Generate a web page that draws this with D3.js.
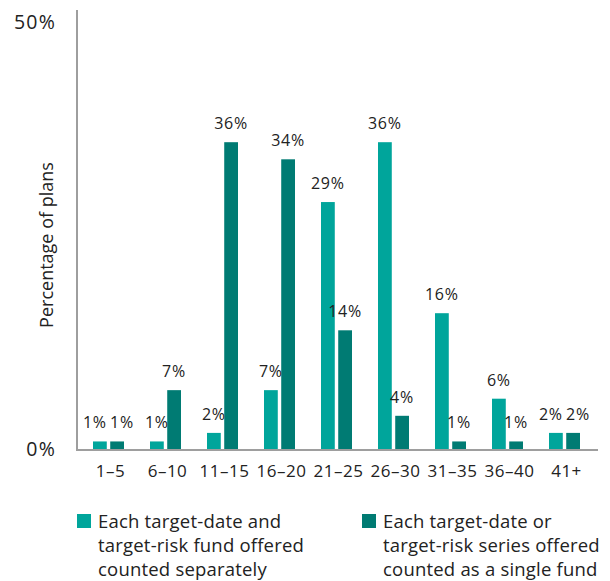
<!DOCTYPE html>
<html>
<head>
<meta charset="utf-8">
<script src="https://cdn.jsdelivr.net/npm/d3@7"></script>
<style>
  body { margin: 0; background: #fff; }
  svg text { font-family: "Open Sans", "Noto Sans", sans-serif; fill: #222; }
</style>
</head>
<body>
<div id="chart"></div>
<script>
// data
const categories = ["1–5", "6–10", "11–15", "16–20", "21–25", "26–30", "31–35", "36–40", "41+"];
const separately = [1, 1, 2, 7, 29, 36, 16, 6, 2];
const singleFund = [1, 7, 36, 34, 14, 4, 1, 1, 2];
const yTicks = [0, 50];
const legendLines = [
    ["Each target-date and", "target-risk fund offered", "counted separately"],
    ["Each target-date or", "target-risk series offered", "counted as a single fund"]
];
const colors = ["#00a59b", "#007b73"];

const width = 610, height = 581;

const svg = d3.select("#chart").append("svg")
    .attr("width", width)
    .attr("height", height);

// scales
let x = d3.scaleBand()
    .domain(categories)
    .range([80, 593]);

let xSub = d3.scaleBand()
    .domain([0, 1])
    .range([x.bandwidth() / 2 - 15.5, x.bandwidth() / 2 + 15.5])
    .paddingInner(0.2);

let y = d3.scaleLinear()
    .domain([0, 50])
    .range([450, 22.5]);

// table of rows built from arrays
let rows = categories.map((c, i) => ({cat: c, vals: [separately[i], singleFund[i]]}));

// bars
let groups = svg.selectAll(".grp")
    .data(rows)
    .enter().append("g")
    .attr("class", "grp")
    .attr("transform", d => `translate(${x(d.cat)},0)`);

groups.selectAll("rect")
    .data(d => d.vals.map((v, k) => ({k: k, v: v})))
    .enter().append("rect")
    .attr("x", d => xSub(d.k))
    .attr("y", d => y(d.v))
    .attr("width", xSub.bandwidth())
    .attr("height", d => y(0) - y(d.v))
    .attr("fill", d => colors[d.k]);

// value labels; push apart the pair when both sit at about the same height
groups.selectAll("text.val")
    .data(d => d.vals.map((v, k) => ({k: k, v: v, close: Math.abs(y(d.vals[0]) - y(d.vals[1])) < 18})))
    .enter().append("text")
    .attr("class", "val")
    .attr("x", d => xSub(d.k) + xSub.bandwidth() / 2 + (d.close ? (d.k === 0 ? -5 : 5) : 0))
    .attr("y", d => y(d.v) - 13)
    .attr("text-anchor", "middle")
    .attr("font-size", 16)
    .attr("letter-spacing", 0.8)
    .text(d => d.v + "%");

// axes lines
svg.append("line")
    .attr("x1", 77).attr("x2", 77)
    .attr("y1", 10).attr("y2", 451)
    .attr("stroke", "#9e9e9e").attr("stroke-width", 2);

svg.append("line")
    .attr("x1", 76).attr("x2", 598)
    .attr("y1", y(0)).attr("y2", y(0))
    .attr("stroke", "#9e9e9e").attr("stroke-width", 2);

// y tick labels
svg.selectAll(".ytick")
    .data(yTicks)
    .enter().append("text")
    .attr("class", "ytick")
    .attr("x", 56)
    .attr("y", d => y(d) + 6)
    .attr("text-anchor", "end")
    .attr("font-size", 19.5)
    .attr("letter-spacing", 1.2)
    .text(d => d + "%");

// x tick labels
svg.selectAll(".xtick")
    .data(categories)
    .enter().append("text")
    .attr("class", "xtick")
    .attr("x", d => x(d) + x.bandwidth() / 2 + 2)
    .attr("y", 477)
    .attr("text-anchor", "middle")
    .attr("font-size", 17)
    .attr("letter-spacing", 0.5)
    .text(d => d);

// y title
svg.append("text")
    .attr("transform", "translate(53,245) rotate(-90)")
    .attr("text-anchor", "middle")
    .attr("font-size", 18)
    .text("Percentage of plans");

// legend
let legendX = [77, 362];
let legend = svg.selectAll(".legend")
    .data(legendLines)
    .enter().append("g")
    .attr("class", "legend")
    .attr("transform", (d, i) => `translate(${legendX[i]},514)`);

legend.append("rect")
    .attr("width", 14).attr("height", 14)
    .attr("fill", (d, i) => colors[i]);

legend.append("text")
    .attr("font-size", 18.5)
    .attr("letter-spacing", 0.2)
    .selectAll("tspan")
    .data(d => d)
    .enter().append("tspan")
    .attr("x", 21)
    .attr("y", (d, i) => 14 + i * 24)
    .text(d => d);
</script>
</body>
</html>
